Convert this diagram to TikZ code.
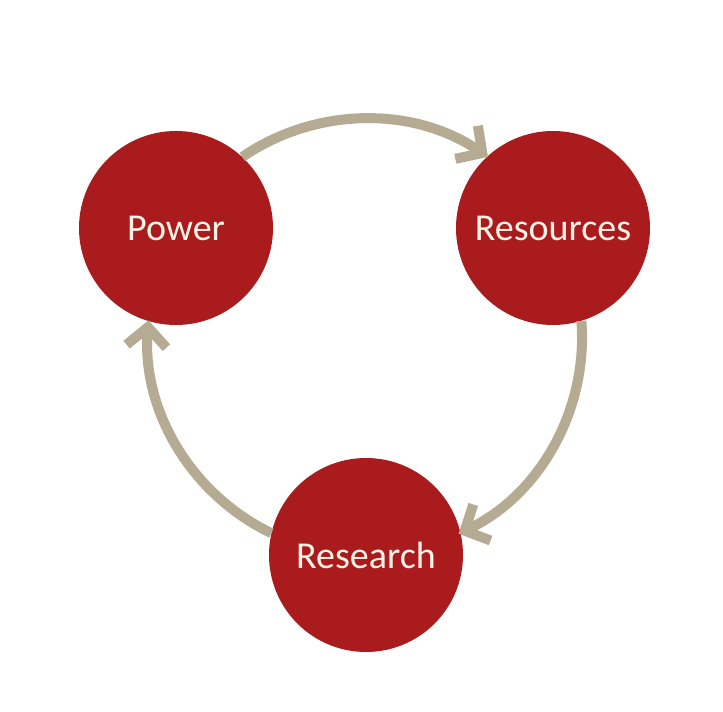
\documentclass[tikz,border=0pt]{standalone}
\usepackage{fontspec}
\setmainfont{Carlito}
\usetikzlibrary{arrows.meta}
\definecolor{darkred}{RGB}{170,27,30}
\definecolor{sand}{RGB}{181,170,146}
\definecolor{cream}{RGB}{252,243,230}
\begin{document}
\begin{tikzpicture}[x=1pt,y=1pt,
	topic/.style={circle,fill=darkred,minimum size=194pt,inner sep=0pt,text=cream,font=\fontsize{38}{44}\selectfont},
	cyclearrow/.style={draw=sand,line width=10pt,-{Straight Barb[length=19pt,width=40pt]}}]
	\useasboundingbox (0,0) rectangle (723,712);
	\node[topic] (power) at (176,484) {Power};
	\node[topic] (resources) at (553,484) {Resources};
	\node[topic] (research) at (366,157) {Research};
	% arcs of the big circle through the three centres
	\draw[cyclearrow] (power.47) arc[start angle=124.3, end angle=55.7, radius=218pt];
	\draw[cyclearrow] (resources.287) arc[start angle=4.3, end angle=-64.3, radius=218pt];
	\draw[cyclearrow] (research.167) arc[start angle=244.3, end angle=175.7, radius=218pt];
\end{tikzpicture}
\end{document}
